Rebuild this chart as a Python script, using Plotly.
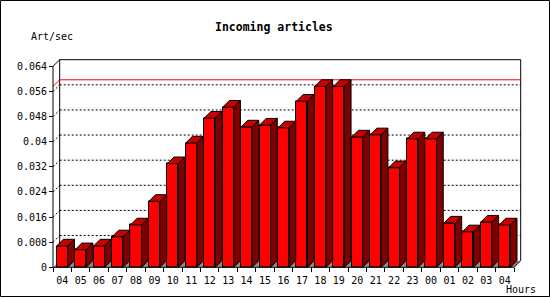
import plotly.graph_objects as go

# ---- data ----
hours = ['04', '05', '06', '07', '08', '09', '10', '11', '12', '13', '14', '15', '16',
         '17', '18', '19', '20', '21', '22', '23', '00', '01', '02', '03', '04']
art_per_sec = [0.0068, 0.0056, 0.0068, 0.0097, 0.0135, 0.0210, 0.0330, 0.0396, 0.0475,
               0.0510, 0.0447, 0.0453, 0.0444, 0.0529, 0.0576, 0.0576, 0.0415, 0.0422,
               0.0317, 0.0409, 0.0409, 0.0141, 0.0113, 0.0144, 0.0135]
y_tickvals = [0, 0.008, 0.016, 0.024, 0.032, 0.04, 0.048, 0.056, 0.064]
y_ticktext = ['0', '0.008', '0.016', '0.024', '0.032', '0.04', '0.048', '0.056', '0.064']

# ---- geometry (pixel layout of the front plane) ----
W, H = 550, 300
FX0, FX1 = 53, 514        # front x axis extent (px)
FY0, FY1 = 270, 67        # pixel rows of y=0 and y=0.064
YMAX = 0.064
N = len(hours)
PX_X = (FX1 - FX0) / N
PX_Y = (FY0 - FY1) / YMAX
DEPTH = 6.7
dx = DEPTH / PX_X
dy = DEPTH / PX_Y
BW = 0.6                  # bar width in category units
hw = BW / 2

PL, PR, PB, PT = 50, 523, 273, 57   # plot area (px)
xr = [-0.5 - (FX0 - PL) / PX_X, -0.5 + (PR - FX0) / PX_X]
yr = [-(PB - FY0) / PX_Y, (FY0 - PT) / PX_Y]

xs = list(range(N))
FONT = 'DejaVu Sans Mono'

fig = go.Figure()

# front faces
fig.add_trace(go.Bar(x=xs, y=art_per_sec, width=BW,
                     marker=dict(color='#ff0000', line=dict(color='black', width=1)),
                     hoverinfo='skip', showlegend=False))

# top and side faces
tx, ty, sx, sy = [], [], [], []
for c, v in zip(xs, art_per_sec):
    tx += [c - hw, c + hw, c + hw + dx, c - hw + dx, c - hw, None]
    ty += [v, v, v + dy, v + dy, v, None]
    sx += [c + hw, c + hw, c + hw + dx, c + hw + dx, c + hw, None]
    sy += [0, v, v + dy, dy, 0, None]
fig.add_trace(go.Scatter(x=tx, y=ty, mode='lines', fill='toself', fillcolor='#c80000',
                         line=dict(color='black', width=1), hoverinfo='skip',
                         showlegend=False))
fig.add_trace(go.Scatter(x=sx, y=sy, mode='lines', fill='toself', fillcolor='#800000',
                         line=dict(color='black', width=1), hoverinfo='skip',
                         showlegend=False))

shapes = []
L, R = -0.5, N - 0.5
# floor
shapes.append(dict(type='path', xref='x', yref='y', layer='below',
                   path=f'M{L},0 L{R},0 L{R+dx},{dy} L{L+dx},{dy} Z',
                   fillcolor='#8c8c8c', line=dict(width=0)))
# dotted grid on back plane + diagonals
for v in y_tickvals[1:-1]:
    shapes.append(dict(type='line', xref='x', yref='y', layer='below',
                       x0=L + dx, x1=R + dx, y0=v + dy, y1=v + dy,
                       line=dict(color='black', width=1, dash='2px,2px')))
    shapes.append(dict(type='line', xref='x', yref='y', layer='below',
                       x0=L, x1=L + dx, y0=v, y1=v + dy,
                       line=dict(color='black', width=1, dash='2px,2px')))
# back plane border
shapes.append(dict(type='path', xref='x', yref='y', layer='below',
                   path=f'M{L+dx},{dy} L{L+dx},{YMAX+dy} L{R+dx},{YMAX+dy} L{R+dx},{dy}',
                   line=dict(color='black', width=1)))
shapes.append(dict(type='line', xref='x', yref='y', layer='below',
                   x0=L, x1=L + dx, y0=YMAX, y1=YMAX + dy, line=dict(color='black', width=1)))
shapes.append(dict(type='line', xref='x', yref='y', layer='below',
                   x0=R, x1=R + dx, y0=0, y1=dy, line=dict(color='black', width=1)))
# max line
vmax = max(art_per_sec)
shapes.append(dict(type='path', xref='x', yref='y', layer='below',
                   path=f'M{L},{vmax} L{L+dx},{vmax+dy} L{R+dx},{vmax+dy}',
                   line=dict(color='red', width=1)))
# front axis lines
shapes.append(dict(type='line', xref='x', yref='y', layer='above',
                   x0=L, x1=L, y0=0, y1=YMAX, line=dict(color='black', width=1)))
shapes.append(dict(type='line', xref='x', yref='y', layer='above',
                   x0=L, x1=R, y0=0, y1=0, line=dict(color='black', width=1)))
# outer frame
shapes.append(dict(type='rect', xref='paper', yref='paper',
                   x0=0.5 / W, x1=(W - 0.5) / W, y0=0.5 / H, y1=(H - 0.5) / H,
                   line=dict(color='black', width=1)))

fig.update_layout(
    width=W, height=H, autosize=False,
    margin=dict(l=0, r=0, t=0, b=0),
    paper_bgcolor='white', plot_bgcolor='white',
    bargap=0, shapes=shapes,
    font=dict(family=FONT, size=10, color='black'),
    xaxis=dict(range=xr, domain=[PL / W, PR / W], anchor='free', position=(H - FY0) / H,
               tickvals=xs, ticktext=hours, ticks='outside', ticklen=4,
               tickcolor='rgba(0,0,0,0)', showgrid=False, zeroline=False, showline=False,
               tickfont=dict(family=FONT, size=10, color='black'),
               minor=dict(tickvals=[i - 0.5 for i in range(N + 1)], ticks='outside',
                          ticklen=4, tickcolor='black', tickwidth=1, showgrid=False)),
    yaxis=dict(range=yr, domain=[(H - PB) / H, (H - PT) / H], anchor='free',
               position=FX0 / W, tickvals=y_tickvals, ticktext=y_ticktext,
               ticks='outside', ticklen=4, tickcolor='black', showgrid=False,
               zeroline=False, showline=False,
               tickfont=dict(family=FONT, size=10, color='black')),
    annotations=[
        dict(text='<b>Incoming articles</b>', xref='paper', yref='paper',
             x=274 / W, y=1 - 27 / H, xanchor='center', yanchor='middle', showarrow=False,
             font=dict(family=FONT, size=11.5, color='black')),
        dict(text='Art/sec', xref='paper', yref='paper', x=29 / W, y=1 - 37 / H,
             xanchor='left', yanchor='middle', showarrow=False,
             font=dict(family=FONT, size=10, color='black')),
        dict(text='Hours', xref='paper', yref='paper', x=504 / W, y=1 - 292 / H,
             xanchor='left', yanchor='middle', showarrow=False,
             font=dict(family=FONT, size=10, color='black')),
    ],
)

fig.write_html('out.html')
